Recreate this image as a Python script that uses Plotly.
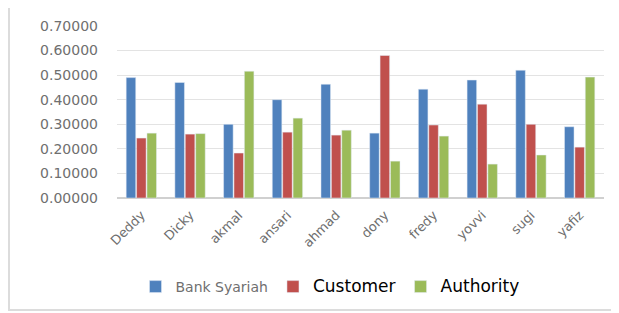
import plotly.graph_objects as go

categories = ["Deddy", "Dicky", "akmal", "ansari", "ahmad", "dony", "fredy", "yovvi", "sugi", "yafiz"]
bank_syariah = [0.490, 0.470, 0.300, 0.400, 0.463, 0.264, 0.443, 0.480, 0.520, 0.290]
customer = [0.244, 0.260, 0.183, 0.268, 0.256, 0.580, 0.297, 0.382, 0.300, 0.207]
authority = [0.264, 0.262, 0.516, 0.325, 0.276, 0.150, 0.252, 0.138, 0.175, 0.492]
tick_vals = [0, 0.1, 0.2, 0.3, 0.4, 0.5, 0.6, 0.7]

# page body has an 8px default margin, so figure coords = screen coords - 8
OFF = 8
W, H = 619 - OFF, 313 - OFF
L, T = 117 - OFF, 26 - OFF
R = W - (604 - OFF)
B = H - (198 - OFF)

fig = go.Figure()
fig.add_bar(x=categories, y=bank_syariah,
            name="<span style='font-size:14px;color:#6f6f6f'>Bank Syariah</span>",
            marker_color="#4F81BD")
fig.add_bar(x=categories, y=customer,
            name="<span style='font-size:17px;color:#000000'>Customer</span>",
            marker_color="#C0504D")
fig.add_bar(x=categories, y=authority,
            name="<span style='font-size:17px;color:#000000'>Authority</span>",
            marker_color="#9BBB59")

pw = W - L - R
ph = H - T - B
base = T + ph  # figure y of paper 0
fig.add_shape(type="rect", xref="paper", yref="paper",
              x0=(9 - OFF - L) / pw, x1=(640 - OFF - L) / pw,
              y0=(base - (310 - OFF)) / ph, y1=(base - (6 - OFF)) / ph,
              line=dict(color="#dcdcdc", width=2), fillcolor="rgba(0,0,0,0)", layer="below")

fig.update_layout(
    width=W, height=H,
    margin=dict(l=L, r=R, t=T, b=B, autoexpand=False),
    paper_bgcolor="white", plot_bgcolor="white",
    barmode="group", bargap=0.36, bargroupgap=0.08,
    font=dict(family="DejaVu Sans, sans-serif", color="#6f6f6f", size=12),
    showlegend=True,
    legend=dict(orientation="h", x=(330 - OFF - L) / pw, xanchor="center",
                y=(base - (287 - OFF)) / ph, yanchor="middle",
                font=dict(size=14), itemwidth=30, tracegroupgap=0),
    xaxis=dict(tickangle=-45, tickfont=dict(size=13, color="#6f6f6f"), showgrid=False,
               showline=False, ticks="", automargin=False, ticklabelstandoff=6),
    yaxis=dict(range=[0, 0.7], tickvals=tick_vals, tickformat=".5f",
               tickfont=dict(size=14, color="#6f6f6f"), gridcolor="#e3e3e3",
               zeroline=True, zerolinecolor="#d0d0d0", ticks="", ticklabelstandoff=18,
               automargin=False),
)

fig.write_html("out.html")
